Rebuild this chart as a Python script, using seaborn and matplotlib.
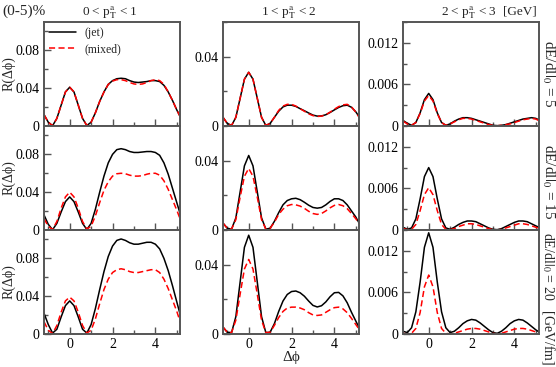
import matplotlib
matplotlib.use("Agg")
import matplotlib.pyplot as plt
import seaborn as sns
import pandas as pd
from matplotlib.ticker import MultipleLocator, FuncFormatter

# delta phi grid (read every 0.2)
dphi = [-1.2, -1.0, -0.8, -0.6, -0.4, -0.2, 0.0, 0.2, 0.4, 0.6, 0.8, 1.0, 1.2, 1.4, 1.6, 1.8, 2.0,
        2.2, 2.4, 2.6, 2.8, 3.0, 3.2, 3.4, 3.6, 3.8, 4.0, 4.2, 4.4, 4.6, 4.8, 5.0, 5.2]

# 0 < pT < 1
jet_5_low = [0.012, 0.004, 0.0003, 0.008, 0.022, 0.036, 0.041, 0.036, 0.022, 0.008, 0.0005, 0.004, 0.014,
             0.026, 0.036, 0.044, 0.048, 0.050, 0.0505, 0.050, 0.048, 0.0465, 0.046, 0.0465, 0.047, 0.048,
             0.048, 0.047, 0.043, 0.036, 0.027, 0.017, 0.008]
mix_5_low = [0.012, 0.004, 0.0003, 0.008, 0.022, 0.036, 0.041, 0.036, 0.022, 0.008, 0.0005, 0.004, 0.014,
             0.026, 0.036, 0.044, 0.0475, 0.049, 0.049, 0.048, 0.046, 0.0445, 0.044, 0.0445, 0.046, 0.048,
             0.049, 0.048, 0.044, 0.036, 0.027, 0.017, 0.008]
jet_15_low = [0.016, 0.006, 0.0003, 0.007, 0.019, 0.030, 0.035, 0.030, 0.019, 0.007, 0.0005, 0.007, 0.022,
              0.040, 0.057, 0.071, 0.080, 0.085, 0.086, 0.085, 0.083, 0.082, 0.082, 0.0825, 0.083, 0.083,
              0.082, 0.079, 0.071, 0.059, 0.044, 0.029, 0.014]
mix_15_low = [0.012, 0.004, 0.0005, 0.009, 0.023, 0.035, 0.040, 0.035, 0.023, 0.009, 0.001, 0.004, 0.015,
              0.029, 0.042, 0.051, 0.057, 0.0595, 0.060, 0.0595, 0.058, 0.057, 0.057, 0.0575, 0.059, 0.060,
              0.060, 0.058, 0.052, 0.043, 0.032, 0.021, 0.009]
jet_20_low = [0.022, 0.010, 0.001, 0.005, 0.018, 0.030, 0.035, 0.030, 0.018, 0.005, 0.001, 0.010, 0.027,
              0.047, 0.066, 0.082, 0.093, 0.099, 0.1005, 0.099, 0.0965, 0.095, 0.095, 0.096, 0.097, 0.097,
              0.095, 0.090, 0.080, 0.067, 0.051, 0.034, 0.017]
mix_20_low = [0.013, 0.004, 0.0005, 0.009, 0.023, 0.035, 0.039, 0.035, 0.023, 0.009, 0.001, 0.004, 0.016,
              0.032, 0.047, 0.058, 0.065, 0.068, 0.069, 0.068, 0.066, 0.065, 0.065, 0.066, 0.067, 0.068,
              0.068, 0.065, 0.058, 0.048, 0.036, 0.024, 0.010]

# 1 < pT < 2
jet_5_mid = [0.005, 0.0015, 0.0003, 0.005, 0.016, 0.027, 0.031, 0.027, 0.016, 0.005, 0.0003, 0.0015, 0.005,
             0.0085, 0.011, 0.012, 0.012, 0.0113, 0.010, 0.0088, 0.0075, 0.0063, 0.0057, 0.0058, 0.0065,
             0.0078, 0.0093, 0.0107, 0.0117, 0.012, 0.0108, 0.0082, 0.0045]
mix_5_mid = [0.005, 0.0015, 0.0003, 0.005, 0.016, 0.027, 0.031, 0.027, 0.016, 0.005, 0.0003, 0.0015, 0.005,
             0.009, 0.0115, 0.0125, 0.0125, 0.0115, 0.010, 0.0085, 0.007, 0.006, 0.0055, 0.0057, 0.0065,
             0.008, 0.0097, 0.0112, 0.0122, 0.0125, 0.011, 0.008, 0.0042]
jet_15_mid = [0.004, 0.001, 0.0005, 0.007, 0.022, 0.037, 0.043, 0.037, 0.022, 0.007, 0.0005, 0.001, 0.005,
              0.010, 0.0145, 0.017, 0.018, 0.0183, 0.0175, 0.016, 0.0143, 0.013, 0.0126, 0.013, 0.0145,
              0.0165, 0.018, 0.018, 0.017, 0.0145, 0.011, 0.0075, 0.003]
mix_15_mid = [0.004, 0.001, 0.0005, 0.006, 0.019, 0.031, 0.0355, 0.031, 0.019, 0.006, 0.0005, 0.001, 0.0045,
              0.009, 0.012, 0.014, 0.0147, 0.0145, 0.0138, 0.0125, 0.0108, 0.0095, 0.009, 0.0095, 0.011,
              0.0128, 0.0142, 0.0147, 0.014, 0.0123, 0.0095, 0.0065, 0.003]
jet_20_mid = [0.004, 0.001, 0.0008, 0.010, 0.030, 0.050, 0.057, 0.050, 0.030, 0.010, 0.0008, 0.001, 0.006,
              0.013, 0.019, 0.0228, 0.0245, 0.0248, 0.0238, 0.0218, 0.019, 0.0165, 0.0156, 0.0163, 0.0185,
              0.0215, 0.0238, 0.024, 0.022, 0.018, 0.0125, 0.0075, 0.0025]
mix_20_mid = [0.004, 0.001, 0.0008, 0.008, 0.023, 0.0375, 0.043, 0.0375, 0.023, 0.008, 0.0008, 0.001, 0.005,
              0.0095, 0.013, 0.015, 0.0155, 0.0155, 0.015, 0.014, 0.0123, 0.011, 0.0107, 0.011, 0.0125,
              0.014, 0.0152, 0.0155, 0.0145, 0.0123, 0.009, 0.0055, 0.002]

# 2 < pT < 3
jet_5_high = [0.0008, 0.0004, 0.0001, 0.0005, 0.0019, 0.0038, 0.0047, 0.0038, 0.0019, 0.0005, 0.0001, 0.0003,
              0.0007, 0.001, 0.0012, 0.0012, 0.0011, 0.0009, 0.0007, 0.0005, 0.0003, 0.0001, 0.00005, 0.0001,
              0.0002, 0.0004, 0.0006, 0.0008, 0.001, 0.0011, 0.0012, 0.0011, 0.0008]
mix_5_high = [0.0007, 0.0003, 0.0001, 0.0005, 0.0018, 0.0036, 0.0044, 0.0036, 0.0018, 0.0005, 0.0001, 0.0003,
              0.0006, 0.0009, 0.0011, 0.0011, 0.001, 0.0008, 0.0006, 0.0004, 0.0002, 0.0001, 0.00003, 0.0001,
              0.0002, 0.0003, 0.0005, 0.0007, 0.0009, 0.001, 0.0011, 0.001, 0.0007]
jet_15_high = [0.0004, 0.0001, 0.0003, 0.0016, 0.0045, 0.0077, 0.0090, 0.0077, 0.0045, 0.0016, 0.0003, 0.0001,
               0.0004, 0.0008, 0.0011, 0.0013, 0.0013, 0.0012, 0.0009, 0.0006, 0.0003, 0.0001, 0.00005, 0.0002,
               0.0005, 0.0008, 0.0011, 0.0013, 0.0013, 0.0012, 0.0009, 0.0006, 0.0003]
mix_15_high = [0.0002, 0.00005, 0.0001, 0.0008, 0.0028, 0.0051, 0.0061, 0.0051, 0.0028, 0.0008, 0.0001, 0.00005,
               0.0002, 0.0005, 0.0007, 0.0009, 0.0009, 0.0008, 0.0006, 0.0004, 0.0002, 0.00005, 0.0, 0.0001,
               0.0003, 0.0005, 0.0007, 0.0009, 0.0009, 0.0008, 0.0006, 0.0004, 0.0002]
jet_20_high = [0.0004, 0.0002, 0.0009, 0.0032, 0.0075, 0.0125, 0.0146, 0.0125, 0.0075, 0.0032, 0.0009, 0.0002,
               0.0004, 0.0009, 0.0015, 0.0019, 0.0021, 0.002, 0.0016, 0.0011, 0.0006, 0.0002, 0.0001, 0.0004,
               0.0009, 0.0015, 0.0019, 0.0021, 0.002, 0.0016, 0.0011, 0.0006, 0.0002]
mix_20_high = [0.0001, 0.0, 0.0001, 0.0008, 0.0031, 0.0068, 0.0085, 0.0068, 0.0031, 0.0008, 0.0001, 0.0,
               0.0001, 0.0003, 0.0005, 0.0007, 0.0008, 0.0008, 0.0007, 0.0005, 0.0003, 0.0001, 0.0, 0.0001,
               0.0003, 0.0005, 0.0007, 0.0008, 0.0008, 0.0007, 0.0005, 0.0003, 0.0001]

col_titles = [r"0 < p$_{\rm T}^{\rm a}$ < 1", r"1 < p$_{\rm T}^{\rm a}$ < 2", r"2 < p$_{\rm T}^{\rm a}$ < 3"]
row_labels = [r"dE/dl$|_0$ = 5", r"dE/dl$|_0$ = 15", r"dE/dl$|_0$ = 20   [GeV/fm]"]

curves = [[(jet_5_low, mix_5_low), (jet_5_mid, mix_5_mid), (jet_5_high, mix_5_high)],
          [(jet_15_low, mix_15_low), (jet_15_mid, mix_15_mid), (jet_15_high, mix_15_high)],
          [(jet_20_low, mix_20_low), (jet_20_mid, mix_20_mid), (jet_20_high, mix_20_high)]]

ylims = [0.11, 0.06, 0.015]
ymajor = [0.04, 0.04, 0.006]
yminor = [0.02, 0.02, 0.003]

sns.set_theme(style="ticks")
plt.rcParams['font.family'] = ['Liberation Serif', 'DejaVu Serif']
plt.rcParams['mathtext.fontset'] = 'stix'

W, H = 556, 367
fig = plt.figure(figsize=(W / 100, H / 100), dpi=100)

lefts = [44, 223, 403]
tops = [22, 126, 230]
aw, ah = 136, 104

fmt = FuncFormatter(lambda v, p: '0' if abs(v) < 1e-12 else f'{v:g}')

for r in range(3):
    for c in range(3):
        ax = fig.add_axes([lefts[c] / W, 1 - (tops[r] + ah) / H, aw / W, ah / H])
        jet, mix = curves[r][c]
        df = pd.DataFrame({'dphi': dphi, 'jet': jet, 'mixed': mix})
        sns.lineplot(data=df, x='dphi', y='jet', ax=ax, color='black', lw=1.1,
                     label='(jet)' if (r == 0 and c == 0) else None)
        sns.lineplot(data=df, x='dphi', y='mixed', ax=ax, color='#ff0000', lw=1.1,
                     label='(mixed)' if (r == 0 and c == 0) else None)
        ax.lines[-1].set_dashes([4, 2.2])
        ax.set_xlim(-1.2, 5.15)
        ax.set_ylim(0, ylims[c])
        ax.xaxis.set_major_locator(MultipleLocator(2))
        ax.xaxis.set_minor_locator(MultipleLocator(1))
        ax.yaxis.set_major_locator(MultipleLocator(ymajor[c]))
        ax.yaxis.set_minor_locator(MultipleLocator(yminor[c]))
        ax.yaxis.set_major_formatter(fmt)
        ax.tick_params(which='both', direction='in', top=False, right=False, labelsize=10,
                       colors='#555555', labelcolor='black', width=1.0, pad=3)
        ax.tick_params(which='major', length=5)
        ax.tick_params(which='minor', length=3)
        ax.set_xlabel('')
        ax.set_ylabel('')
        if r < 2:
            ax.set_xticklabels([])
        for s in ax.spines.values():
            s.set_color('#555555')
            s.set_linewidth(1.4)
        if r == 0 and c == 0:
            ax.legend(loc='upper left', bbox_to_anchor=(-0.04, 1.05), frameon=False, fontsize=8.5,
                      handlelength=2.3, handletextpad=0.7, labelspacing=0.3)
        elif ax.get_legend() is not None:
            ax.get_legend().remove()

# texts around the grid
fig.text(2 / W, 1 - 11 / H, "(0-5)%", ha='left', va='center', fontsize=11)
centers = [(l + aw / 2) for l in lefts]
for c in range(3):
    fig.text((centers[c] - 2) / W, 1 - 15 / H, col_titles[c], ha='center', va='baseline', fontsize=9.5)
fig.text(537 / W, 1 - 15 / H, "[GeV]", ha='right', va='baseline', fontsize=9.5)

fig.text(548 / W, 1 - 74 / H, row_labels[0], rotation=270, ha='center', va='center', fontsize=11)
fig.text(548 / W, 1 - 182 / H, row_labels[1], rotation=270, ha='center', va='center', fontsize=11)
fig.text(548 / W, 1 - 365 / H, row_labels[2], rotation=270, ha='center', va='bottom', fontsize=10)

for r in range(3):
    fig.text(9 / W, 1 - (tops[r] + ah / 2) / H, "R(Δϕ)", rotation=90, ha='center', va='center',
             fontsize=10)
fig.text(centers[1] / W, 1 - 357 / H, "Δϕ", ha='center', va='center', fontsize=11)

plt.savefig("out.png", dpi=100)
